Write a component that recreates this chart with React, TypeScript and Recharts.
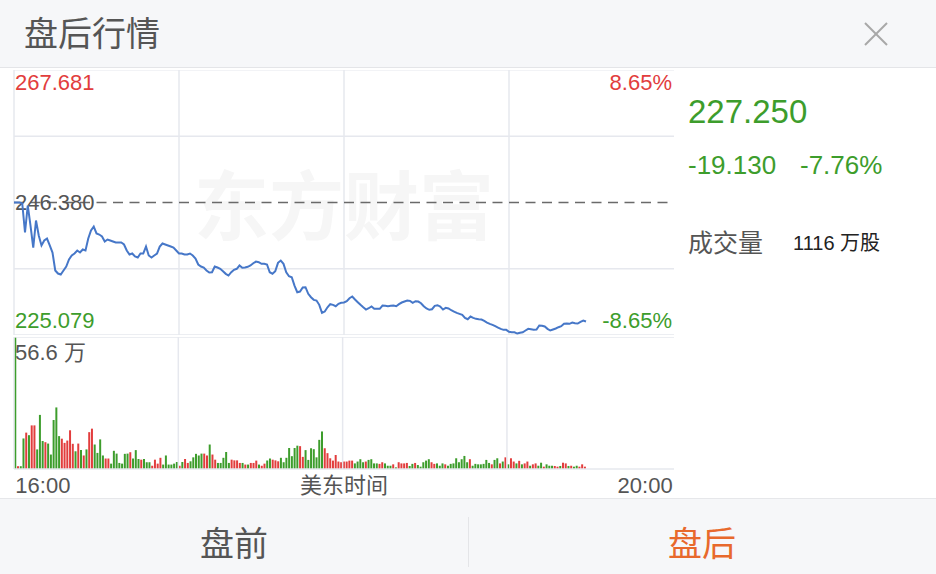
import { Bar, BarChart, Cell, Line, LineChart, ReferenceLine, XAxis, YAxis } from "recharts";

const RED = "#e23d3d";
const GREEN = "#3d9d2c";
const BLUE = "#4677c8";
const GRID = "#e6e8ee";
const TEXT = "#555";
const font = '"Liberation Sans", "Noto Sans CJK SC", sans-serif';

// after-hours session 16:00 - 20:00, one value per minute
const price = [
  246.38, 246.38, 246.38, 246.22, 241.56, 245.9, 242.68, 239.14, 243.49, 241.07,
  239.47, 240.27, 240.59, 239.47, 238.34, 235.45, 234.96, 234.8, 235.45, 236.09,
  237.22, 237.86, 238.18, 238.66, 238.34, 238.82, 238.66, 240.59, 241.88, 242.52,
  241.4, 241.23, 240.91, 240.11, 240.43, 240.27, 240.11, 239.95, 239.95, 239.95,
  239.63, 238.66, 238.02, 238.18, 237.7, 237.54, 238.18, 238.18, 239.3, 237.86,
  237.54, 237.86, 238.18, 239.3, 239.79, 239.63, 239.47, 239.3, 239.14, 238.66,
  238.18, 238.18, 238.02, 238.02, 238.18, 237.86, 237.38, 236.41, 236.09, 235.93,
  235.45, 235.12, 235.17, 236.09, 235.93, 235.72, 235.33, 234.91, 234.64, 235.17,
  235.56, 235.72, 236.25, 235.88, 235.93, 236.04, 236.25, 236.62, 236.89, 236.78,
  236.52, 236.52, 236.41, 235.17, 234.91, 235.33, 236.68, 237.05, 236.52, 235.17,
  234.53, 234.37, 233.03, 231.96, 232.07, 232.71, 232.76, 231.7, 231.15, 230.73,
  230.62, 229.93, 228.64, 228.85, 229.54, 230.03, 229.93, 229.71, 230.09, 230.25,
  230.3, 230.51, 230.99, 231.27, 230.78, 230.35, 229.93, 229.54, 229.17, 229.38,
  229.66, 229.29, 229.29, 229.29, 229.82, 229.77, 229.71, 229.77, 229.82, 229.71,
  230.03, 230.3, 230.46, 230.62, 230.57, 230.25, 230.51, 230.46, 230.19, 229.71,
  229.34, 229.13, 229.22, 229.77, 229.87, 229.66, 229.17, 229.45, 229.34, 229.06,
  228.85, 228.64, 228.48, 228.32, 227.84, 227.61, 228.05, 227.84, 227.68, 227.61,
  227.57, 227.36, 227.08, 226.87, 226.71, 226.49, 226.28, 226.07, 225.91, 225.91,
  225.59, 225.52, 225.52, 225.31, 225.43, 225.52, 225.8, 226.07, 226.01, 225.91,
  225.96, 226.6, 226.55, 226.44, 226.07, 225.8, 225.96, 226.12, 226.33, 226.49,
  226.88, 226.92, 226.88, 227.08, 226.97, 226.92, 227.2, 227.41, 227.25,
];

// volume per minute, in 万 shares
const volume = [
  56.6, 1.2, 1.2, 13.1, 15.6, 14.5, 18.7, 18.7, 8.4, 23.2,
  12.0, 11.5, 10.9, 6.2, 21.0, 26.4, 14.1, 13.0, 11.2, 12.2,
  16.6, 10.8, 7.6, 10.9, 8.1, 5.8, 8.4, 15.8, 17.3, 10.5,
  6.9, 12.7, 5.8, 4.5, 4.5, 2.3, 7.8, 6.6, 2.6, 2.3,
  6.5, 6.6, 7.2, 4.5, 8.1, 4.3, 4.0, 4.3, 2.9, 2.9,
  1.4, 4.0, 2.3, 4.8, 1.9, 5.8, 1.9, 1.9, 2.3, 3.0,
  1.4, 3.0, 4.3, 2.6, 3.3, 5.0, 6.5, 5.8, 6.6, 6.6,
  5.8, 10.5, 6.2, 4.0, 2.6, 2.6, 4.8, 7.3, 2.6, 4.0,
  3.7, 3.7, 2.6, 2.6, 1.9, 1.9, 2.6, 2.6, 3.6, 1.9,
  1.4, 2.3, 3.6, 4.5, 4.0, 3.7, 3.3, 4.8, 2.9, 4.8,
  9.0, 5.5, 9.0, 10.0, 9.8, 5.2, 8.1, 3.9, 8.9, 8.5,
  5.0, 12.5, 16.1, 8.9, 6.8, 4.6, 3.6, 6.0, 3.2, 2.9,
  3.2, 3.2, 3.6, 3.6, 2.4, 3.2, 4.2, 2.9, 3.2, 3.9,
  4.2, 2.4, 2.4, 2.2, 2.9, 2.4, 1.4, 1.4, 2.0, 0.7,
  2.9, 2.4, 2.4, 2.6, 1.3, 2.2, 2.6, 1.7, 1.0, 2.9,
  3.6, 4.2, 2.9, 2.2, 2.4, 1.4, 2.4, 2.0, 1.4, 2.2,
  2.4, 4.6, 2.9, 4.2, 5.6, 2.9, 4.2, 1.4, 2.2, 2.0,
  2.0, 2.2, 3.9, 2.6, 2.0, 3.9, 4.6, 2.4, 3.2, 5.0,
  2.0, 4.6, 3.2, 2.4, 3.5, 2.0, 2.4, 3.2, 1.4, 2.0,
  2.4, 1.4, 2.7, 1.0, 2.0, 1.4, 1.4, 1.3, 1.0, 1.3,
  2.7, 2.4, 1.3, 1.4, 1.0, 1.4, 1.0, 2.0, 1.0,
];

// r = up tick (red bar), g = down tick (green bar)
const side = (
  "grggrgrrgg grgggggrrr rrgrgrgrrg gggrrggggg ggrgggrggg rrrrgggggg rgrrgggggr " +
  "rgrrgggggr rrrgrgrrrg rrggrrrggg ggggrrgggg gggrrrrrrr rrrrggggrg gggrrgggrg " +
  "rrrrggrggg ggrrgggrgg ggggggrggg ggggrggrgr grrgrgrrgr rggrgggrrg rrgrggrrr"
).replace(/ /g, "");

const openPrice = 246.38;
const priceLow = 225.079;
const priceHigh = 267.681;
const pctRange = "8.65%";
const volTop = 56.6;
const gridPrices = [235.73, 257.03];
const gridMinutes = [0, 60, 120, 180];
const timeTicks = [0, 120, 240];
const timeLabels = ["16:00", "美东时间", "20:00"];

const lastPrice = "227.250";
const change = "-19.130";
const changePct = "-7.76%";
const totalVolume = "1116";

const rows = Array.from({ length: 241 }, (_, m) => ({
  m,
  p: price[m] ?? null,
  v: volume[m] ?? null,
  up: side[m] === "r",
}));

function edgeLabel(text: string, color: string, right: boolean, dy: number) {
  return (props: any) => {
    const { x, y, width } = props.viewBox;
    return (
      <text
        x={right ? x + width - 2 : x + 1}
        y={y + dy}
        fill={color}
        fontSize={22}
        fontFamily={font}
        textAnchor={right ? "end" : "start"}
        dominantBaseline="central"
      >
        {text}
      </text>
    );
  };
}

function TimeTick(props: any) {
  const { x, y, index } = props;
  const anchor = index === 0 ? "start" : index === 2 ? "end" : "middle";
  return (
    <text x={x} y={y + 8} fill={TEXT} fontSize={22} fontFamily={font} textAnchor={anchor} dominantBaseline="central">
      {timeLabels[index]}
    </text>
  );
}

const margin = { top: 0, right: 2, bottom: 0, left: 2 };

export default function App() {
  return (
    <div
      style={{
        position: "absolute",
        left: 0,
        top: 0,
        width: 936,
        height: 574,
        overflow: "hidden",
        background: "#fff",
        fontFamily: font,
      }}
    >
      {/* header */}
      <div
        style={{
          position: "absolute",
          left: 0,
          top: 0,
          width: 936,
          height: 67,
          background: "#f6f7f9",
          borderBottom: "1px solid #e4e5e8",
        }}
      >
        <div style={{ position: "absolute", left: 24, top: 34, transform: "translateY(-50%)", fontSize: 34, color: TEXT, lineHeight: 1 }}>
          盘后行情
        </div>
        <svg style={{ position: "absolute", left: 864, top: 22 }} width={24} height={24}>
          <line x1={1} y1={1} x2={23} y2={23} stroke="#a8a8a8" strokeWidth={2} />
          <line x1={23} y1={1} x2={1} y2={23} stroke="#a8a8a8" strokeWidth={2} />
        </svg>
      </div>

      {/* watermark */}
      <div
        style={{
          position: "absolute",
          left: 344,
          top: 201,
          transform: "translate(-50%, -50%)",
          fontSize: 75,
          fontWeight: 700,
          color: "#f6f6f6",
          whiteSpace: "nowrap",
          lineHeight: 1,
          fontFamily: '"Noto Sans CJK SC", sans-serif',
        }}
      >
        东方财富
      </div>

      {/* price line */}
      <div style={{ position: "absolute", left: 12, top: 70 }}>
        <LineChart width={664} height={265} data={rows} margin={margin}>
          <XAxis dataKey="m" type="number" domain={[0, 240]} hide />
          <YAxis domain={[priceLow, priceHigh]} hide />
          {gridMinutes.map((x) => (
            <ReferenceLine key={`x${x}`} x={x} stroke={GRID} strokeWidth={1.5} />
          ))}
          {gridPrices.map((y) => (
            <ReferenceLine key={`y${y}`} y={y} stroke={GRID} strokeWidth={1.5} />
          ))}
          <ReferenceLine y={priceHigh} stroke={GRID} label={{ content: edgeLabel(priceHigh.toFixed(3), RED, false, 12) }} />
          <ReferenceLine y={priceHigh} stroke="none" label={{ content: edgeLabel(pctRange, RED, true, 12) }} />
          <ReferenceLine y={priceLow} stroke={GRID} strokeWidth={1.5} label={{ content: edgeLabel(priceLow.toFixed(3), GREEN, false, -15) }} />
          <ReferenceLine y={priceLow} stroke="none" label={{ content: edgeLabel(`-${pctRange}`, GREEN, true, -15) }} />
          <ReferenceLine
            y={openPrice}
            stroke="#6a6a6a"
            strokeWidth={1.3}
            strokeDasharray="10 6.5"
            label={{ content: edgeLabel(openPrice.toFixed(3), TEXT, false, 0) }}
          />
          <Line type="linear" dataKey="p" stroke={BLUE} strokeWidth={2} dot={false} isAnimationActive={false} />
        </LineChart>
      </div>

      {/* volume bars */}
      <div style={{ position: "absolute", left: 12, top: 337 }}>
        <BarChart width={664} height={161} data={rows} margin={margin} barCategoryGap="10%">
          <XAxis
            dataKey="m"
            ticks={timeTicks}
            interval={0}
            tick={<TimeTick />}
            axisLine={false}
            tickLine={false}
            height={29}
          />
          <YAxis domain={[0, volTop]} hide />
          {gridMinutes.map((x) => (
            <ReferenceLine key={`vx${x}`} x={x} position="start" stroke={GRID} strokeWidth={1.5} />
          ))}
          <ReferenceLine y={volTop} stroke={GRID} strokeWidth={1.5} label={{ content: edgeLabel(`${volTop} 万`, TEXT, false, 15) }} />
          <ReferenceLine y={0} stroke={GRID} strokeWidth={1.5} />
          <Bar dataKey="v" isAnimationActive={false}>
            {rows.map((r) => (
              <Cell key={r.m} fill={r.up ? RED : GREEN} />
            ))}
          </Bar>
        </BarChart>
      </div>

      {/* right summary */}
      <div style={{ position: "absolute", left: 688, top: 111, transform: "translateY(-50%)", fontSize: 33, color: GREEN, lineHeight: 1 }}>
        {lastPrice}
      </div>
      <div style={{ position: "absolute", left: 688, top: 165, transform: "translateY(-50%)", fontSize: 26, color: GREEN, lineHeight: 1 }}>
        {change}
      </div>
      <div style={{ position: "absolute", left: 800, top: 165, transform: "translateY(-50%)", fontSize: 26, color: GREEN, lineHeight: 1 }}>
        {changePct}
      </div>
      <div style={{ position: "absolute", left: 688, top: 243, transform: "translateY(-50%)", fontSize: 25, color: TEXT, lineHeight: 1 }}>
        成交量
      </div>
      <div style={{ position: "absolute", left: 793, top: 243, transform: "translateY(-50%)", fontSize: 20, color: "#222", lineHeight: 1 }}>
        {totalVolume} 万股
      </div>

      {/* bottom tabs */}
      <div
        style={{
          position: "absolute",
          left: 0,
          top: 498,
          width: 936,
          height: 76,
          background: "#f6f7f9",
          borderTop: "1px solid #e6e7ea",
        }}
      >
        <div style={{ position: "absolute", left: 234, top: 45, transform: "translate(-50%, -50%)", fontSize: 34, color: TEXT, lineHeight: 1 }}>
          盘前
        </div>
        <div style={{ position: "absolute", left: 468, top: 18, width: 1, height: 50, background: "#e4e5e8" }} />
        <div style={{ position: "absolute", left: 702, top: 45, transform: "translate(-50%, -50%)", fontSize: 34, color: "#e8692c", lineHeight: 1 }}>
          盘后
        </div>
      </div>
    </div>
  );
}
